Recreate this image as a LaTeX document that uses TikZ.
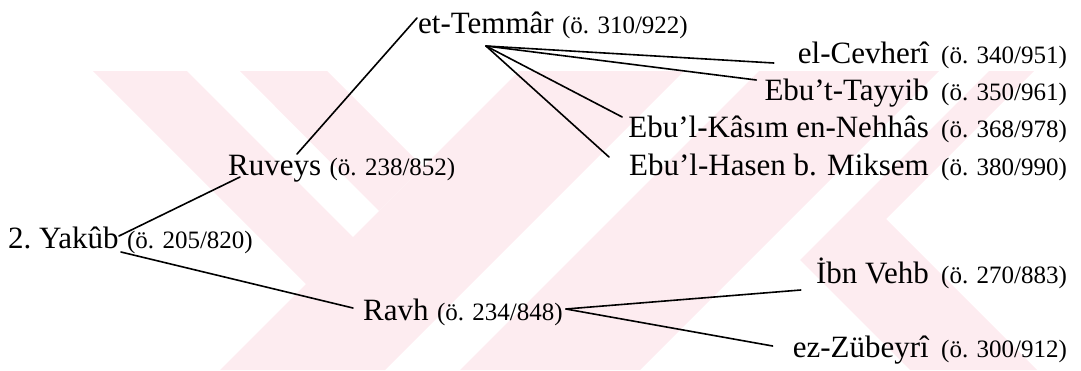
\documentclass[tikz,border=0pt]{standalone}
\usepackage{fontspec}
\setmainfont{Liberation Serif}
\usetikzlibrary{positioning}
\definecolor{wzrosa}{RGB}{253,236,240}
\tikzset{
  Isim/.style={font=\fontsize{31}{33}\selectfont, inner sep=0pt}, % Namen
  Tarih/.style={font=\fontsize{25}{27}\selectfont, inner sep=0pt}, % Sterbejahre
  Bag/.style={line width=1.6pt, line cap=round}, % Verbindungslinien
  WZ/.style={fill=wzrosa} % Wasserzeichen
}

\begin{document}
\begin{tikzpicture}[x=1pt, y=-1pt]
\useasboundingbox (0,0) rectangle (1081,370);

%Wasserzeichen
\begin{scope}
\clip (90,71) rectangle (1045,370);
\fill[WZ] (93,71) -- (187,71) -- (433,317) -- (306,284) -- cycle;
\fill[WZ] (240,71) -- (327,71) -- (423,167) -- (379,211) -- cycle;
\fill[WZ] (519,71) -- (684,71) -- (385,370) -- (220,370) -- cycle;
\fill[WZ] (759,71) -- (939,71) -- (640,370) -- (460,370) -- cycle;
\fill[WZ] (989,71) -- (1034,71) -- (886,219) -- (1037,370) -- (910,370) -- (800,260) -- cycle;
\end{scope}

%Namen links
\node[Isim, anchor=base west] (yakub) at (8,248) {2.\ Yakûb};
\node[Tarih, right=8pt of yakub.base east, anchor=base west] (yakubT) {(ö. 205/820)};
\node[Isim, anchor=base west] (ruveys) at (228,175) {Ruveys};
\node[Tarih, right=8pt of ruveys.base east, anchor=base west] (ruveysT) {(ö. 238/852)};
\node[Isim, anchor=base west] (ravh) at (363,320) {Ravh};
\node[Tarih, right=8pt of ravh.base east, anchor=base west] (ravhT) {(ö. 234/848)};
\node[Isim, anchor=base west] (temmar) at (418,33) {et-Temmâr};
\node[Tarih, right=8pt of temmar.base east, anchor=base west] (temmarT) {(ö. 310/922)};

%Namen rechts
\node[Tarih, anchor=base west] (cevheriT) at (941,63) {(ö. 340/951)};
\node[Isim, left=12pt of cevheriT.base west, anchor=base east] (cevheri) {el-Cevherî};
\node[Tarih, anchor=base west] (tayyibT) at (941,100) {(ö. 350/961)};
\node[Isim, left=12pt of tayyibT.base west, anchor=base east] (tayyib) {Ebu’t-Tayyib};
\node[Tarih, anchor=base west] (kasimT) at (941,137) {(ö. 368/978)};
\node[Isim, left=12pt of kasimT.base west, anchor=base east] (kasim) {Ebu’l-Kâsım en-Nehhâs};
\node[Tarih, anchor=base west] (hasenT) at (941,175) {(ö. 380/990)};
\node[Isim, left=12pt of hasenT.base west, anchor=base east] (hasen) {Ebu’l-Hasen b. Miksem};
\node[Tarih, anchor=base west] (vehbT) at (941,283) {(ö. 270/883)};
\node[Isim, left=12pt of vehbT.base west, anchor=base east] (vehb) {İbn Vehb};
\node[Tarih, anchor=base west] (zubeyriT) at (941,357) {(ö. 300/912)};
\node[Isim, left=12pt of zubeyriT.base west, anchor=base east] (zubeyri) {ez-Zübeyrî};

%Linien
\draw[Bag] ([shift={(0,-12)}]yakub.base east) -- ([shift={(12,2)}]ruveys.base west);
\draw[Bag] ([shift={(69,-21)}]ruveys.base west) -- ([shift={(-1,-15)}]temmar.base west);
\draw[Bag] ([shift={(2,4)}]yakub.base east) -- ([shift={(-10,-12)}]ravh.base west);

\coordinate (fan) at ([shift={(68,13)}]temmar.base west);
\foreach \ziel/\dx/\dy in {cevheri/-24/0, tayyib/-8/-20, kasim/-6/-20, hasen/-20/-18}
  \draw[Bag] (fan) -- ([shift={(\dx,\dy)}]\ziel.base west);

\coordinate (gabel) at ([shift={(3,-11)}]ravhT.base east);
\draw[Bag] (gabel) -- ([shift={(-15,7)}]vehb.base west);
\draw[Bag] (gabel) -- ([shift={(-20,-11)}]zubeyri.base west);

\end{tikzpicture}
\end{document}
